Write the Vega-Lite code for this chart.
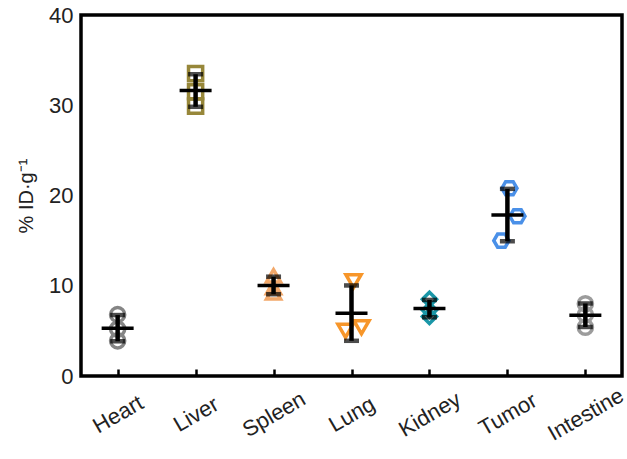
{
  "$schema": "https://vega.github.io/schema/vega-lite/v6.json",
  "width": 541,
  "height": 361,
  "autosize": {"type": "none"},
  "padding": {"left": 81, "top": 15, "right": 5, "bottom": 83},
  "background": "white",
  "config": {
    "view": {"stroke": "black", "strokeWidth": 3.5},
    "font": "Liberation Sans",
    "axis": {"grid": false, "domain": false, "labelColor": "#222", "titleColor": "#222"}
  },
  "data": {
    "values": [
      {"organ": "Heart", "rep": "a", "value": 6.8},
      {"organ": "Heart", "rep": "b", "value": 5.2},
      {"organ": "Heart", "rep": "c", "value": 3.9},
      {"organ": "Liver", "rep": "a", "value": 33.5},
      {"organ": "Liver", "rep": "b", "value": 31.5},
      {"organ": "Liver", "rep": "c", "value": 29.9},
      {"organ": "Spleen", "rep": "a", "value": 11.1},
      {"organ": "Spleen", "rep": "b", "value": 9.8},
      {"organ": "Spleen", "rep": "c", "value": 9.2},
      {"organ": "Lung", "rep": "a", "value": 10.5},
      {"organ": "Lung", "rep": "b", "value": 5.0},
      {"organ": "Lung", "rep": "c", "value": 5.4},
      {"organ": "Kidney", "rep": "a", "value": 8.5},
      {"organ": "Kidney", "rep": "b", "value": 7.3},
      {"organ": "Kidney", "rep": "c", "value": 6.6},
      {"organ": "Tumor", "rep": "a", "value": 20.8},
      {"organ": "Tumor", "rep": "b", "value": 15.0},
      {"organ": "Tumor", "rep": "c", "value": 17.7},
      {"organ": "Intestine", "rep": "a", "value": 8.0},
      {"organ": "Intestine", "rep": "b", "value": 6.8},
      {"organ": "Intestine", "rep": "c", "value": 5.4}
    ]
  },
  "encoding": {
    "x": {
      "field": "organ",
      "type": "nominal",
      "sort": ["Heart", "Liver", "Spleen", "Lung", "Kidney", "Tumor", "Intestine"],
      "scale": {"type": "point", "padding": 0.47},
      "axis": {
        "title": null,
        "offset": -7,
        "labelAngle": -30,
        "labelAlign": "center",
        "labelBaseline": "middle",
        "labelFontSize": 22,
        "labelPadding": 38,
        "tickSize": 7,
        "tickWidth": 2.5,
        "tickColor": "black"
      }
    },
    "y": {
      "field": "value",
      "type": "quantitative",
      "scale": {"domain": [0, 40], "nice": false},
      "axis": {
        "title": "% ID·g⁻¹",
        "titleFontSize": 20,
        "titleFontWeight": "normal",
        "titlePadding": 12,
        "values": [0, 10, 20, 30, 40],
        "ticks": false,
        "labelFontSize": 22,
        "labelPadding": 8
      }
    }
  },
  "layer": [
    {
      "transform": [{"filter": "datum.organ !== 'Lung' && datum.organ !== 'Tumor'"}],
      "mark": {"type": "point", "filled": false, "strokeWidth": 3.5, "size": 200, "opacity": 1},
      "encoding": {
        "color": {"field": "organ", "type": "nominal", "legend": null,
          "scale": {"domain": ["Heart", "Liver", "Spleen", "Lung", "Kidney", "Tumor", "Intestine"],
                    "range": ["#858585", "#97873a", "#f2a86a", "#f7962a", "#1a97a8", "#4a90e8", "#9c9c9c"]}},
        "shape": {"field": "organ", "type": "nominal", "legend": null,
          "scale": {"domain": ["Heart", "Liver", "Spleen", "Lung", "Kidney", "Tumor", "Intestine"],
                    "range": ["circle", "square", "triangle-up", "triangle-down", "diamond", "M-1,0L-0.5,-0.866L0.5,-0.866L1,0L0.5,0.866L-0.5,0.866Z", "circle"]}}
      }
    },
    {
      "transform": [{"filter": "datum.organ === 'Lung' || datum.organ === 'Tumor'"}],
      "mark": {"type": "point", "filled": false, "strokeWidth": 3.5, "size": 230, "opacity": 1},
      "encoding": {
        "xOffset": {"field": "rep", "type": "nominal", "sort": ["b", "a", "c"],
          "scale": {"type": "point", "range": [-10, 14]}},
        "color": {"field": "organ", "type": "nominal", "legend": null},
        "shape": {"field": "organ", "type": "nominal", "legend": null}
      }
    },
    {
      "mark": {
        "type": "errorbar",
        "extent": "stdev",
        "color": "black",
        "rule": {"strokeWidth": 4.5},
        "ticks": {"size": 15, "thickness": 4.5, "color": "black"}
      },
      "encoding": {}
    },
    {
      "mark": {"type": "tick", "color": "black", "size": 32, "thickness": 3.5, "orient": "horizontal", "opacity": 1},
      "encoding": {"y": {"aggregate": "mean", "field": "value", "type": "quantitative"}}
    }
  ]
}
